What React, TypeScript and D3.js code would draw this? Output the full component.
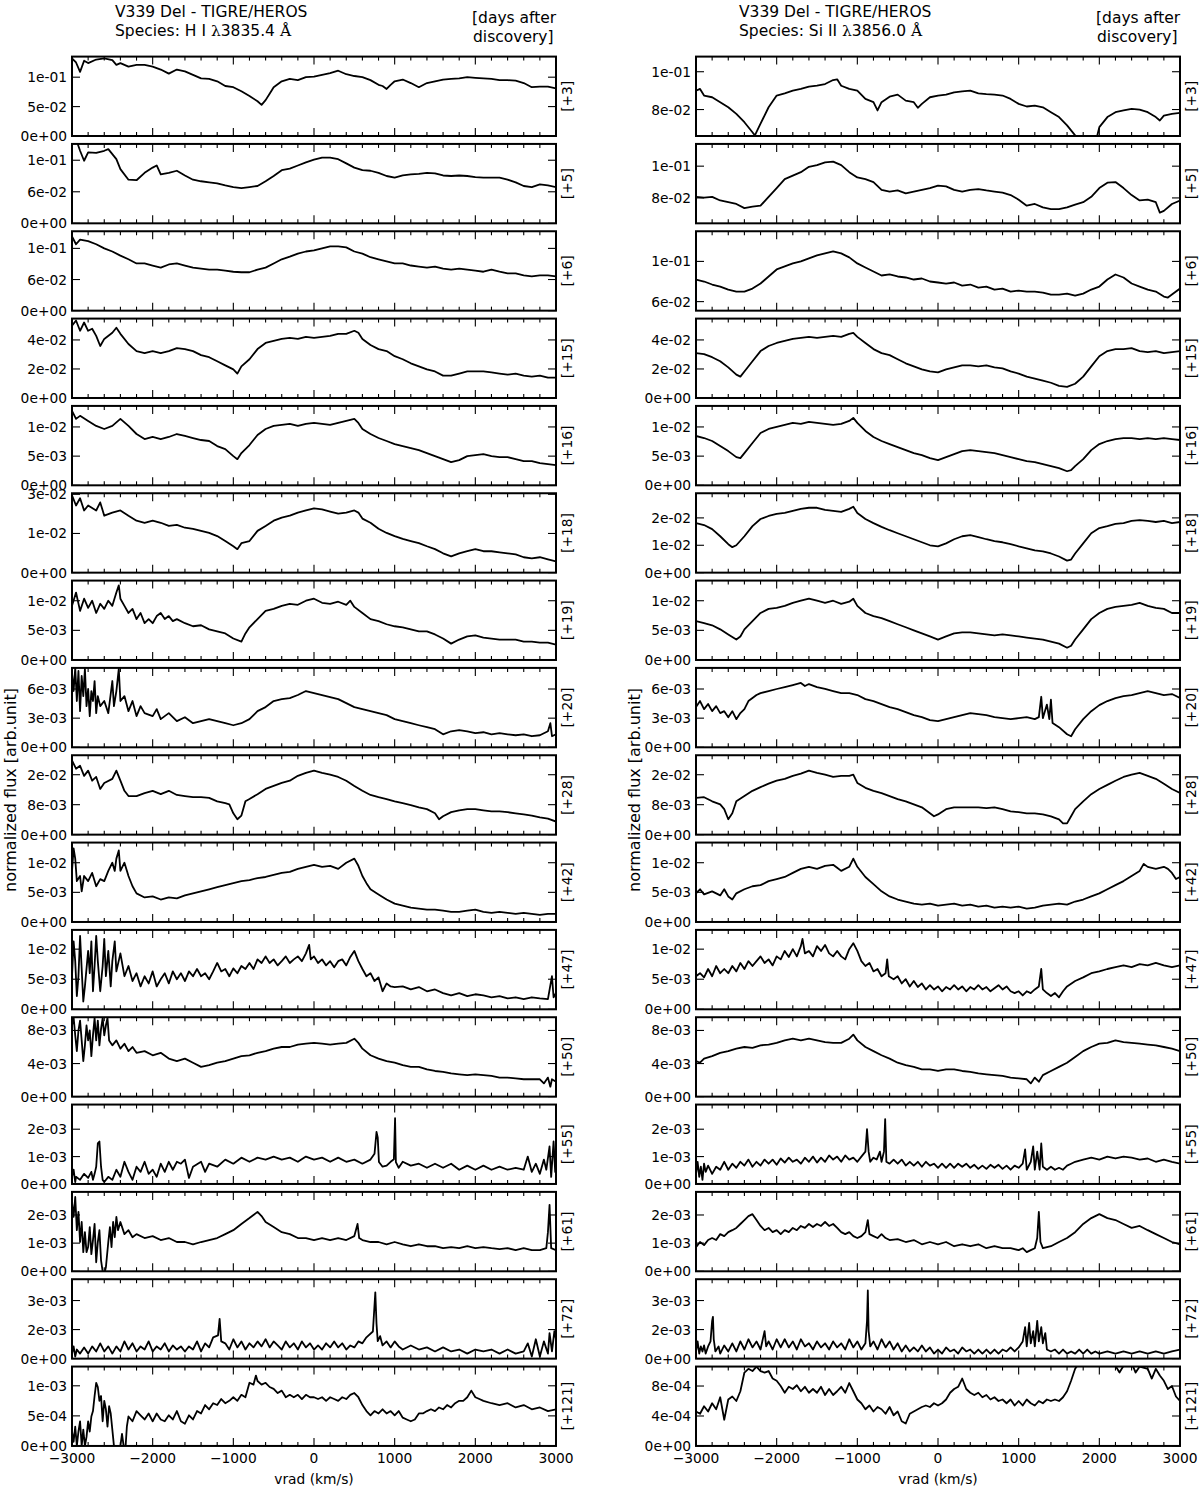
import React from "react";
import * as d3 from "d3";

type Pt = [number, number];

const vradTicks = [-3000, -2000, -1000, 0, 1000, 2000, 3000];
const daysAfter = ["+3", "+5", "+6", "+15", "+16", "+18", "+19", "+20", "+28", "+42", "+47", "+50", "+55", "+61", "+72", "+121"];

// ---------------- H I 3835.4 ----------------
const hi03: Pt[] = [[-3000,0.132],[-2950,0.125],[-2900,0.109],[-2850,0.128],[-2800,0.124],[-2700,0.13],[-2600,0.132],[-2500,0.129],[-2450,0.121],[-2400,0.124],[-2300,0.118],[-2200,0.121],[-2100,0.121],[-2000,0.118],[-1900,0.113],[-1800,0.106],[-1700,0.113],[-1600,0.11],[-1500,0.104],[-1400,0.098],[-1300,0.097],[-1200,0.093],[-1100,0.085],[-1000,0.083],[-900,0.076],[-800,0.068],[-700,0.059],[-650,0.053],[-600,0.061],[-550,0.072],[-500,0.083],[-400,0.093],[-300,0.097],[-200,0.095],[-100,0.1],[0,0.101],[100,0.104],[200,0.107],[300,0.111],[400,0.105],[500,0.102],[600,0.1],[700,0.095],[800,0.087],[850,0.085],[900,0.08],[950,0.087],[1000,0.093],[1100,0.096],[1200,0.09],[1300,0.083],[1400,0.09],[1500,0.093],[1600,0.096],[1700,0.097],[1800,0.098],[1900,0.1],[2000,0.099],[2100,0.098],[2200,0.097],[2300,0.095],[2400,0.095],[2500,0.094],[2600,0.09],[2700,0.083],[2800,0.084],[2900,0.084],[3000,0.081]];
const hi05: Pt[] = [[-2950,0.16],[-2900,0.138],[-2850,0.119],[-2800,0.135],[-2700,0.134],[-2600,0.138],[-2550,0.141],[-2450,0.122],[-2400,0.103],[-2300,0.083],[-2200,0.082],[-2100,0.096],[-2000,0.106],[-1950,0.11],[-1900,0.093],[-1800,0.096],[-1700,0.1],[-1600,0.091],[-1500,0.083],[-1400,0.08],[-1300,0.078],[-1200,0.076],[-1100,0.072],[-1000,0.069],[-900,0.067],[-800,0.069],[-700,0.071],[-600,0.08],[-500,0.09],[-400,0.101],[-300,0.104],[-200,0.11],[-100,0.116],[0,0.121],[100,0.125],[200,0.125],[300,0.122],[400,0.114],[500,0.106],[600,0.101],[700,0.1],[800,0.096],[900,0.09],[1000,0.087],[1100,0.091],[1200,0.093],[1300,0.094],[1400,0.096],[1500,0.095],[1600,0.091],[1700,0.09],[1800,0.091],[1900,0.09],[2000,0.088],[2100,0.087],[2200,0.087],[2300,0.087],[2400,0.083],[2500,0.078],[2600,0.071],[2700,0.069],[2800,0.074],[2900,0.072],[3000,0.069]];
const hi06: Pt[] = [[-3000,0.143],[-2950,0.128],[-2900,0.137],[-2800,0.134],[-2700,0.128],[-2600,0.12],[-2500,0.114],[-2400,0.106],[-2300,0.099],[-2200,0.091],[-2100,0.091],[-2000,0.087],[-1900,0.083],[-1800,0.089],[-1700,0.091],[-1600,0.087],[-1500,0.083],[-1400,0.081],[-1300,0.079],[-1200,0.079],[-1100,0.077],[-1000,0.075],[-900,0.074],[-800,0.074],[-700,0.079],[-600,0.083],[-500,0.091],[-400,0.099],[-300,0.104],[-200,0.11],[-100,0.114],[0,0.116],[100,0.12],[200,0.124],[300,0.124],[400,0.122],[500,0.114],[600,0.11],[700,0.103],[800,0.099],[900,0.095],[1000,0.091],[1100,0.091],[1200,0.087],[1300,0.085],[1400,0.083],[1500,0.085],[1600,0.081],[1700,0.079],[1800,0.081],[1900,0.079],[2000,0.077],[2100,0.075],[2200,0.079],[2300,0.075],[2400,0.072],[2500,0.072],[2600,0.068],[2700,0.066],[2800,0.068],[2900,0.068],[3000,0.066]];
const hi15: Pt[] = [[-3000,0.0498],[-2950,0.0534],[-2900,0.0463],[-2850,0.052],[-2800,0.0463],[-2750,0.0477],[-2700,0.0428],[-2650,0.0358],[-2600,0.0407],[-2500,0.0449],[-2450,0.0484],[-2400,0.0442],[-2300,0.0372],[-2200,0.0323],[-2100,0.0309],[-2000,0.0323],[-1900,0.0309],[-1800,0.0323],[-1700,0.0344],[-1600,0.0337],[-1500,0.0323],[-1400,0.0295],[-1300,0.0281],[-1200,0.0253],[-1100,0.0225],[-1000,0.0197],[-950,0.0168],[-900,0.0218],[-800,0.0267],[-700,0.0337],[-600,0.0379],[-500,0.0393],[-400,0.0407],[-300,0.0414],[-200,0.0407],[-100,0.0421],[0,0.0414],[100,0.0421],[200,0.0428],[300,0.0442],[400,0.0442],[500,0.0463],[550,0.0449],[600,0.0407],[700,0.0365],[800,0.0337],[900,0.0323],[1000,0.0288],[1100,0.0267],[1200,0.0239],[1300,0.0218],[1400,0.0197],[1500,0.0183],[1600,0.0154],[1700,0.0154],[1800,0.0168],[1900,0.0183],[2000,0.0183],[2100,0.0183],[2200,0.0176],[2300,0.0168],[2400,0.0161],[2500,0.0168],[2600,0.0154],[2700,0.0147],[2800,0.0154],[2900,0.014],[3000,0.014]];
const hi16: Pt[] = [[-3000,0.01276],[-2950,0.01138],[-2900,0.0119],[-2800,0.01103],[-2700,0.01017],[-2600,0.00965],[-2500,0.01017],[-2400,0.01138],[-2300,0.01017],[-2200,0.00879],[-2100,0.00793],[-2000,0.00828],[-1900,0.00793],[-1800,0.00828],[-1700,0.00879],[-1600,0.00845],[-1500,0.0081],[-1400,0.00776],[-1300,0.00759],[-1200,0.00672],[-1100,0.00621],[-1000,0.005],[-950,0.00448],[-900,0.00552],[-800,0.0069],[-700,0.00862],[-600,0.00965],[-500,0.01017],[-400,0.01034],[-300,0.01052],[-200,0.01017],[-100,0.01052],[0,0.01069],[100,0.01052],[200,0.01034],[300,0.01069],[400,0.01103],[500,0.01138],[550,0.01069],[600,0.00965],[700,0.00879],[800,0.0081],[900,0.00759],[1000,0.00707],[1100,0.00672],[1200,0.00638],[1300,0.00603],[1400,0.00552],[1500,0.005],[1600,0.00448],[1700,0.00397],[1800,0.00431],[1900,0.005],[2000,0.00517],[2100,0.00534],[2200,0.005],[2300,0.00483],[2400,0.00483],[2500,0.00448],[2600,0.00414],[2700,0.00414],[2800,0.00379],[2900,0.00362],[3000,0.00345]];
const hi18: Pt[] = [[-3000,0.0296],[-2950,0.0257],[-2900,0.0285],[-2850,0.0238],[-2800,0.0257],[-2700,0.0238],[-2650,0.0269],[-2600,0.0218],[-2500,0.023],[-2400,0.0238],[-2300,0.0218],[-2200,0.0199],[-2100,0.0191],[-2000,0.0199],[-1900,0.0191],[-1800,0.0179],[-1700,0.0183],[-1600,0.0172],[-1500,0.0168],[-1400,0.016],[-1300,0.0152],[-1200,0.014],[-1100,0.0121],[-1000,0.0101],[-950,0.009],[-900,0.0113],[-800,0.0121],[-700,0.016],[-600,0.0179],[-500,0.0199],[-400,0.0211],[-300,0.0218],[-200,0.023],[-100,0.0238],[0,0.0246],[100,0.0242],[200,0.0234],[300,0.0226],[400,0.023],[500,0.0238],[550,0.023],[600,0.0207],[700,0.0191],[800,0.0168],[900,0.0152],[1000,0.014],[1100,0.0129],[1200,0.0121],[1300,0.0113],[1400,0.0101],[1500,0.009],[1600,0.0074],[1700,0.0062],[1800,0.0074],[1900,0.0082],[2000,0.009],[2100,0.0082],[2200,0.0082],[2300,0.0078],[2400,0.0074],[2500,0.007],[2600,0.0059],[2700,0.0055],[2800,0.0059],[2900,0.0051],[3000,0.0043]];
const hi19: Pt[] = [[-3000,0.00914],[-2950,0.01138],[-2900,0.00828],[-2850,0.01034],[-2800,0.00879],[-2750,0.01],[-2700,0.00793],[-2650,0.00948],[-2600,0.00862],[-2550,0.01],[-2500,0.00914],[-2450,0.01138],[-2420,0.01259],[-2400,0.01034],[-2350,0.00914],[-2300,0.00793],[-2250,0.00862],[-2200,0.0069],[-2150,0.00793],[-2100,0.00621],[-2050,0.0069],[-2000,0.00621],[-1950,0.00741],[-1900,0.00793],[-1850,0.0069],[-1800,0.00741],[-1750,0.00655],[-1700,0.0069],[-1600,0.00621],[-1500,0.00569],[-1400,0.00586],[-1300,0.00517],[-1200,0.00483],[-1100,0.00448],[-1000,0.00362],[-900,0.0031],[-850,0.00448],[-800,0.00552],[-700,0.0069],[-600,0.00828],[-500,0.00862],[-400,0.00914],[-300,0.00948],[-200,0.00931],[-100,0.01],[0,0.01034],[100,0.00965],[200,0.00948],[300,0.00983],[400,0.00931],[450,0.01],[500,0.00896],[600,0.00793],[700,0.0069],[800,0.00655],[900,0.00603],[1000,0.00569],[1100,0.00552],[1200,0.00517],[1300,0.00483],[1400,0.00483],[1500,0.00431],[1600,0.00362],[1700,0.00276],[1800,0.00345],[1900,0.00397],[2000,0.00414],[2100,0.00379],[2200,0.00362],[2300,0.00345],[2400,0.00345],[2500,0.00345],[2600,0.0031],[2700,0.0031],[2800,0.00293],[2900,0.00293],[3000,0.00259]];
const hi20: Pt[] = [[-3000,0.00765],[-2980,0.00579],[-2960,0.00817],[-2940,0.00476],[-2920,0.00786],[-2900,0.00372],[-2880,0.00734],[-2860,0.00527],[-2840,0.00807],[-2820,0.00424],[-2800,0.006],[-2780,0.00321],[-2760,0.00579],[-2740,0.00476],[-2720,0.00682],[-2700,0.00352],[-2680,0.00527],[-2650,0.00424],[-2600,0.00476],[-2550,0.00352],[-2500,0.00682],[-2480,0.00424],[-2450,0.00579],[-2420,0.00807],[-2400,0.00476],[-2350,0.00527],[-2300,0.00372],[-2250,0.00476],[-2200,0.00321],[-2150,0.00424],[-2100,0.00352],[-2000,0.00321],[-1950,0.00393],[-1900,0.0029],[-1800,0.00352],[-1700,0.00269],[-1600,0.0031],[-1500,0.00248],[-1400,0.00269],[-1300,0.0029],[-1200,0.00269],[-1100,0.00248],[-1000,0.00227],[-900,0.00248],[-800,0.0029],[-700,0.00372],[-600,0.00414],[-500,0.00476],[-400,0.00496],[-300,0.00507],[-200,0.00538],[-100,0.00579],[0,0.00558],[100,0.00538],[200,0.00517],[300,0.00496],[400,0.00455],[500,0.00414],[600,0.00393],[700,0.00372],[800,0.00352],[900,0.00331],[1000,0.0029],[1100,0.00269],[1200,0.00248],[1300,0.00227],[1400,0.00207],[1500,0.00186],[1600,0.00134],[1700,0.00165],[1800,0.00176],[1900,0.00165],[2000,0.00145],[2100,0.00155],[2200,0.00134],[2300,0.00145],[2400,0.00134],[2500,0.00124],[2600,0.00134],[2700,0.00114],[2800,0.00124],[2900,0.00165],[2930,0.00248],[2950,0.00114],[3000,0.00134]];
const hi28: Pt[] = [[-3000,0.0198],[-2950,0.0176],[-2900,0.0184],[-2850,0.0157],[-2800,0.0171],[-2750,0.0144],[-2700,0.0154],[-2650,0.0122],[-2600,0.0138],[-2500,0.0149],[-2450,0.0171],[-2400,0.0144],[-2350,0.0117],[-2300,0.0103],[-2200,0.0103],[-2100,0.0111],[-2000,0.0117],[-1900,0.0108],[-1800,0.0117],[-1700,0.0106],[-1600,0.0103],[-1500,0.01],[-1400,0.01],[-1300,0.0098],[-1200,0.0089],[-1100,0.0084],[-1050,0.0081],[-1000,0.0057],[-950,0.0041],[-900,0.0051],[-850,0.0089],[-800,0.0095],[-700,0.0108],[-600,0.0122],[-500,0.013],[-400,0.0138],[-300,0.0144],[-200,0.0157],[-100,0.0165],[0,0.0171],[100,0.0165],[200,0.016],[300,0.0154],[400,0.0144],[500,0.013],[600,0.0117],[700,0.0106],[800,0.01],[900,0.0095],[1000,0.0089],[1100,0.0084],[1200,0.0079],[1300,0.0073],[1400,0.0068],[1500,0.0057],[1550,0.0041],[1600,0.0049],[1700,0.006],[1800,0.0065],[1900,0.0068],[2000,0.0068],[2100,0.0065],[2200,0.0062],[2300,0.0062],[2400,0.006],[2500,0.0057],[2600,0.0054],[2700,0.0051],[2800,0.0046],[2900,0.0043],[3000,0.0035]];
const hi42: Pt[] = [[-3000,0.00862],[-2980,0.01241],[-2960,0.01069],[-2940,0.0069],[-2900,0.00776],[-2880,0.00517],[-2850,0.00776],[-2800,0.0069],[-2750,0.00828],[-2700,0.00603],[-2650,0.00724],[-2600,0.0069],[-2550,0.00862],[-2500,0.01],[-2470,0.00862],[-2450,0.01069],[-2420,0.01207],[-2400,0.00862],[-2350,0.01],[-2300,0.00776],[-2250,0.00603],[-2200,0.00483],[-2100,0.00414],[-2000,0.00431],[-1900,0.00379],[-1800,0.00414],[-1700,0.00397],[-1600,0.00448],[-1500,0.00483],[-1400,0.00517],[-1300,0.00552],[-1200,0.00586],[-1100,0.00621],[-1000,0.00655],[-900,0.0069],[-800,0.00707],[-700,0.00741],[-600,0.00759],[-500,0.00793],[-400,0.00828],[-300,0.00845],[-200,0.00896],[-100,0.00931],[0,0.00965],[100,0.00931],[200,0.00948],[300,0.00896],[400,0.01],[500,0.01069],[550,0.00948],[600,0.00776],[650,0.00655],[700,0.00552],[800,0.00465],[900,0.00379],[1000,0.0031],[1100,0.00276],[1200,0.00241],[1300,0.00224],[1400,0.00207],[1500,0.00207],[1600,0.0019],[1700,0.00172],[1800,0.00172],[1900,0.0019],[2000,0.00207],[2100,0.00172],[2200,0.00155],[2300,0.00172],[2400,0.00155],[2500,0.00138],[2600,0.00155],[2700,0.00138],[2800,0.00121],[2900,0.00138],[3000,0.00138]];
const hi47: Pt[] = [[-3000,0.0055],[-2980,0.0113],[-2960,0.008],[-2940,0.0022],[-2920,0.0055],[-2900,0.0122],[-2880,0.0067],[-2860,0.0013],[-2840,0.0038],[-2800,0.0097],[-2780,0.006],[-2760,0.0113],[-2740,0.003],[-2720,0.0072],[-2700,0.0122],[-2680,0.008],[-2650,0.003],[-2620,0.0072],[-2600,0.0117],[-2580,0.0055],[-2550,0.0097],[-2520,0.0038],[-2500,0.008],[-2470,0.0113],[-2450,0.0063],[-2400,0.0093],[-2350,0.0055],[-2300,0.0072],[-2250,0.0047],[-2200,0.006],[-2150,0.0038],[-2100,0.0055],[-2050,0.0043],[-2000,0.0063],[-1950,0.0038],[-1900,0.005],[-1850,0.006],[-1800,0.0043],[-1750,0.0063],[-1700,0.005],[-1650,0.006],[-1600,0.0047],[-1550,0.0063],[-1500,0.0055],[-1450,0.0067],[-1400,0.0055],[-1350,0.006],[-1300,0.005],[-1250,0.0063],[-1200,0.0077],[-1150,0.0063],[-1100,0.0067],[-1050,0.0055],[-1000,0.0068],[-950,0.006],[-900,0.0072],[-850,0.0067],[-800,0.0077],[-750,0.0067],[-700,0.0083],[-650,0.0077],[-600,0.0088],[-550,0.0077],[-500,0.0083],[-450,0.0073],[-400,0.008],[-350,0.0088],[-300,0.0077],[-250,0.0083],[-200,0.0088],[-150,0.008],[-100,0.0093],[-60,0.0107],[-40,0.0083],[0,0.0088],[50,0.0077],[100,0.0083],[150,0.0073],[200,0.008],[250,0.007],[300,0.008],[350,0.0083],[400,0.0073],[450,0.0087],[500,0.0097],[550,0.008],[600,0.0067],[650,0.0055],[700,0.006],[750,0.0047],[800,0.0053],[850,0.003],[900,0.0043],[950,0.0038],[1000,0.0037],[1100,0.0038],[1200,0.0033],[1300,0.0037],[1400,0.003],[1500,0.0033],[1600,0.0027],[1700,0.0023],[1800,0.0027],[1900,0.0022],[2000,0.0025],[2100,0.0023],[2200,0.002],[2300,0.0022],[2400,0.0018],[2500,0.002],[2600,0.0017],[2700,0.002],[2800,0.0018],[2900,0.0017],[2950,0.0055],[2970,0.002],[3000,0.0027]];
const hi50: Pt[] = [[-3000,0.0086],[-2980,0.0096],[-2960,0.0074],[-2940,0.0055],[-2920,0.008],[-2900,0.0092],[-2880,0.0068],[-2860,0.0043],[-2840,0.0062],[-2820,0.0086],[-2800,0.0068],[-2780,0.008],[-2760,0.0049],[-2740,0.0074],[-2720,0.0095],[-2700,0.0068],[-2680,0.0092],[-2660,0.0062],[-2640,0.0082],[-2620,0.0095],[-2600,0.0074],[-2580,0.0086],[-2560,0.0095],[-2540,0.0068],[-2500,0.0062],[-2450,0.0068],[-2400,0.0058],[-2350,0.0064],[-2300,0.0055],[-2250,0.006],[-2200,0.0053],[-2100,0.0055],[-2000,0.005],[-1900,0.0053],[-1800,0.0046],[-1700,0.0043],[-1600,0.0046],[-1500,0.0041],[-1400,0.0036],[-1300,0.0038],[-1200,0.0041],[-1100,0.0043],[-1000,0.0046],[-900,0.0049],[-800,0.005],[-700,0.0053],[-600,0.0055],[-500,0.0058],[-400,0.006],[-300,0.006],[-200,0.0063],[-100,0.0064],[0,0.0065],[100,0.0064],[200,0.0063],[300,0.0064],[400,0.0065],[500,0.007],[550,0.0065],[600,0.0058],[700,0.005],[800,0.0046],[900,0.0043],[1000,0.0041],[1100,0.0038],[1200,0.0036],[1300,0.0036],[1400,0.0033],[1500,0.0031],[1600,0.003],[1700,0.0028],[1800,0.0027],[1900,0.0026],[2000,0.0027],[2100,0.0026],[2200,0.0025],[2300,0.0023],[2400,0.0023],[2500,0.0022],[2600,0.0021],[2700,0.0021],[2800,0.0021],[2850,0.0016],[2900,0.0023],[2930,0.0012],[2950,0.0021],[3000,0.0018]];
const hi55: Pt[] = [[-3000,0.00026],[-2980,0.00052],[-2960,0.00007],[-2950,0.00026],[-2900,0.00015],[-2850,0.00037],[-2800,0.00022],[-2760,0.00044],[-2740,0.00015],[-2720,0.00037],[-2700,0.00063],[-2680,0.00148],[-2660,0.00155],[-2640,0.00063],[-2620,0.00015],[-2600,0.00007],[-2550,0.00026],[-2500,0.00015],[-2450,0.00052],[-2400,0.00026],[-2350,0.00081],[-2300,0.00044],[-2250,0.00015],[-2200,0.00063],[-2150,0.00044],[-2100,0.00081],[-2050,0.00037],[-2000,0.00052],[-1950,0.00026],[-1900,0.00074],[-1850,0.00044],[-1800,0.00081],[-1750,0.00052],[-1700,0.00081],[-1650,0.00074],[-1600,0.00089],[-1550,0.00022],[-1500,0.00063],[-1400,0.00081],[-1350,0.00044],[-1300,0.00074],[-1200,0.00063],[-1100,0.00089],[-1000,0.00074],[-900,0.00096],[-800,0.00081],[-700,0.00096],[-600,0.00089],[-500,0.001],[-400,0.00089],[-300,0.00096],[-200,0.00081],[-100,0.001],[0,0.00089],[100,0.00096],[200,0.00081],[300,0.00096],[400,0.00081],[500,0.00089],[600,0.00074],[700,0.00089],[750,0.0011],[775,0.0019],[790,0.0017],[805,0.0008],[850,0.00063],[900,0.00067],[950,0.00081],[990,0.0009],[1005,0.0024],[1015,0.0008],[1050,0.00059],[1100,0.00081],[1200,0.00067],[1300,0.00074],[1400,0.00059],[1500,0.00074],[1600,0.00059],[1700,0.00074],[1800,0.00052],[1900,0.00067],[2000,0.00052],[2100,0.00067],[2200,0.00052],[2300,0.00063],[2400,0.00052],[2500,0.00059],[2600,0.00052],[2650,0.001],[2700,0.00044],[2750,0.00074],[2800,0.00037],[2850,0.00089],[2880,0.00052],[2920,0.00137],[2940,0.00026],[2970,0.00155],[2990,0.00044],[3000,0.00074]];
const hi61: Pt[] = [[-3000,0.00246],[-2980,0.00193],[-2960,0.00264],[-2940,0.00146],[-2920,0.00211],[-2900,0.00104],[-2880,0.00175],[-2860,0.00068],[-2840,0.00139],[-2820,0.00068],[-2800,0.00086],[-2780,0.00157],[-2760,0.00061],[-2740,0.00111],[-2720,0.00168],[-2700,0.00032],[-2680,0.00104],[-2660,0.00146],[-2640,0.00039],[-2620,0],[-2600,-0.0001],[-2580,0.00014],[-2550,0.00104],[-2530,0.00157],[-2510,0.00086],[-2490,0.00175],[-2470,0.00121],[-2450,0.00193],[-2430,0.00146],[-2400,0.00175],[-2350,0.00132],[-2300,0.00146],[-2250,0.00121],[-2200,0.00132],[-2100,0.00118],[-2000,0.00125],[-1900,0.00111],[-1800,0.00118],[-1700,0.00104],[-1600,0.00104],[-1500,0.00096],[-1400,0.00104],[-1300,0.00111],[-1200,0.00118],[-1100,0.00132],[-1000,0.00146],[-900,0.00168],[-800,0.00189],[-700,0.00211],[-650,0.00196],[-600,0.00175],[-500,0.00157],[-400,0.00139],[-300,0.00132],[-200,0.00118],[-100,0.00118],[0,0.00111],[100,0.00118],[200,0.00111],[300,0.00118],[400,0.00111],[500,0.00125],[540,0.00168],[560,0.00118],[600,0.00111],[700,0.00104],[800,0.00104],[900,0.00096],[1000,0.00104],[1100,0.00096],[1200,0.00089],[1300,0.00096],[1400,0.00089],[1500,0.00089],[1600,0.00082],[1700,0.00086],[1800,0.00082],[1900,0.00089],[2000,0.00082],[2100,0.00086],[2200,0.00082],[2300,0.00079],[2400,0.00082],[2500,0.00075],[2600,0.00082],[2700,0.00075],[2800,0.00075],[2880,0.00082],[2900,0.00139],[2920,0.00236],[2940,0.00082],[3000,0.00075]];
const hi72: Pt[] = [[-3000,0.00026],[-2980,0.00063],[-2960,0.00011],[-2940,0.00047],[-2900,0.00026],[-2850,0.00058],[-2800,0.00026],[-2750,0.00063],[-2700,0.00037],[-2650,0.00079],[-2600,0.00037],[-2550,0.00063],[-2500,0.00026],[-2450,0.00063],[-2400,0.00037],[-2350,0.00089],[-2300,0.00047],[-2250,0.00079],[-2200,0.00037],[-2150,0.00063],[-2100,0.00047],[-2050,0.00089],[-2000,0.00037],[-1950,0.00063],[-1900,0.00047],[-1850,0.00079],[-1800,0.00037],[-1750,0.00068],[-1700,0.00047],[-1650,0.00063],[-1600,0.00037],[-1550,0.00063],[-1500,0.00047],[-1450,0.00089],[-1400,0.00037],[-1350,0.00079],[-1300,0.00058],[-1250,0.0011],[-1190,0.0012],[-1170,0.00205],[-1150,0.00089],[-1100,0.00079],[-1050,0.00047],[-1000,0.001],[-950,0.00058],[-900,0.00089],[-850,0.00047],[-800,0.00079],[-750,0.00058],[-700,0.00089],[-650,0.00063],[-600,0.001],[-550,0.00058],[-500,0.00089],[-450,0.00068],[-400,0.00047],[-350,0.00089],[-300,0.00058],[-250,0.00079],[-200,0.00047],[-150,0.00089],[-100,0.00058],[-50,0.00079],[0,0.00047],[50,0.00068],[100,0.00047],[150,0.00079],[200,0.00058],[250,0.00089],[300,0.00058],[350,0.00079],[400,0.00047],[450,0.00068],[500,0.00058],[550,0.00089],[600,0.00079],[650,0.0011],[730,0.0014],[760,0.00342],[775,0.0018],[790,0.0009],[820,0.00116],[850,0.00068],[900,0.00089],[950,0.00058],[1000,0.00089],[1050,0.00063],[1100,0.00047],[1200,0.00068],[1300,0.00047],[1400,0.00058],[1500,0.00037],[1600,0.00058],[1700,0.00037],[1800,0.00047],[1900,0.00026],[2000,0.00047],[2100,0.00037],[2200,0.00047],[2300,0.00026],[2400,0.00047],[2500,0.00026],[2600,0.00037],[2650,0.00079],[2700,0.00011],[2750,0.001],[2800,0.00011],[2850,0.00089],[2900,0.00026],[2920,0.00132],[2950,0.00037],[2980,0.00142],[3000,0.001]];
const hi121: Pt[] = [[-3000,0.00024],[-2980,0.00007],[-2960,0.00032],[-2940,0],[-2920,0.00024],[-2900,0.00041],[-2880,0],[-2860,0.00027],[-2840,0],[-2820,0.00015],[-2800,0.00041],[-2780,0.00024],[-2760,0.00049],[-2740,0.00058],[-2720,0.00083],[-2700,0.00105],[-2680,0.00098],[-2660,0.00075],[-2640,0.00083],[-2620,0.00041],[-2600,0.00075],[-2580,0.00061],[-2560,0.00032],[-2540,0.00066],[-2520,0.00054],[-2500,0.00027],[-2480,0],[-2450,-0.0001],[-2400,0],[-2380,0.0002],[-2360,0],[-2340,-0.0001],[-2320,0.00032],[-2300,0.00049],[-2250,0.00041],[-2200,0.00058],[-2150,0.00051],[-2100,0.00044],[-2050,0.00054],[-2000,0.00041],[-1950,0.00054],[-1900,0.00044],[-1850,0.00041],[-1800,0.00051],[-1750,0.00044],[-1700,0.00058],[-1650,0.00041],[-1600,0.00037],[-1550,0.00051],[-1500,0.00044],[-1450,0.00058],[-1400,0.00054],[-1350,0.00068],[-1300,0.00061],[-1250,0.00071],[-1200,0.00068],[-1150,0.00078],[-1100,0.00071],[-1050,0.00075],[-1000,0.00081],[-950,0.00075],[-900,0.00085],[-850,0.00081],[-800,0.00105],[-750,0.00102],[-720,0.00117],[-700,0.00108],[-650,0.00102],[-600,0.00105],[-550,0.00098],[-500,0.00095],[-450,0.00088],[-400,0.00092],[-350,0.00081],[-300,0.00085],[-250,0.00081],[-200,0.00085],[-150,0.00078],[-100,0.00085],[-50,0.00081],[0,0.00081],[50,0.00078],[100,0.00081],[150,0.00075],[200,0.00081],[250,0.00078],[300,0.00075],[350,0.00081],[400,0.00078],[450,0.00085],[500,0.00088],[550,0.00081],[600,0.00068],[650,0.00058],[700,0.00051],[750,0.00058],[800,0.00054],[850,0.00061],[900,0.00054],[950,0.00058],[1000,0.00051],[1050,0.00058],[1100,0.00047],[1150,0.00044],[1200,0.00041],[1250,0.00044],[1300,0.00054],[1350,0.00054],[1400,0.00058],[1450,0.00061],[1500,0.00058],[1550,0.00064],[1600,0.00061],[1650,0.00068],[1700,0.00064],[1750,0.00071],[1800,0.00075],[1850,0.00075],[1900,0.00081],[1950,0.00092],[2000,0.00081],[2050,0.00078],[2100,0.00075],[2200,0.00071],[2300,0.00068],[2400,0.00071],[2500,0.00064],[2600,0.00068],[2700,0.00061],[2800,0.00064],[2900,0.00058],[3000,0.00061]];

const hiSeries = [hi03, hi05, hi06, hi15, hi16, hi18, hi19, hi20, hi28, hi42, hi47, hi50, hi55, hi61, hi72, hi121];
const hiDomains: [number, number][] = [[0,0.135],[0,0.151],[0,0.153],[0,0.0547],[0,0.0136],[0,0.0304],[0,0.0134],[0,0.00817],[0,0.0212],[0,0.0134],[0,0.0132],[0,0.0096],[0,0.0029],[0,0.00282],[0,0.0041],[0,0.00132]];
const hiTicks: number[][] = [[0,0.05,0.1],[0,0.06,0.12],[0,0.06,0.12],[0,0.02,0.04],[0,0.005,0.01],[0,0.015,0.03],[0,0.005,0.01],[0,0.003,0.006],[0,0.008,0.016],[0,0.005,0.01],[0,0.005,0.01],[0,0.004,0.008],[0,0.001,0.002],[0,0.001,0.002],[0,0.0015,0.003],[0,0.0005,0.001]];

// ---------------- Si II 3856.0 ----------------
const si03: Pt[] = [[-3000,0.09],[-2950,0.0909],[-2900,0.0874],[-2800,0.0865],[-2700,0.0839],[-2600,0.0812],[-2500,0.0777],[-2400,0.0733],[-2300,0.068],[-2270,0.0663],[-2200,0.0725],[-2100,0.0812],[-2000,0.0874],[-1900,0.0886],[-1800,0.09],[-1700,0.0909],[-1600,0.0921],[-1500,0.0926],[-1400,0.0935],[-1300,0.0956],[-1250,0.096],[-1200,0.0926],[-1100,0.0909],[-1000,0.09],[-900,0.0856],[-800,0.0839],[-750,0.0795],[-700,0.0839],[-600,0.0868],[-500,0.0879],[-400,0.0847],[-300,0.0839],[-250,0.0809],[-200,0.083],[-100,0.0865],[0,0.0874],[100,0.0879],[200,0.0891],[300,0.0896],[400,0.09],[500,0.0886],[600,0.0882],[700,0.0879],[800,0.0874],[900,0.0856],[1000,0.083],[1100,0.0816],[1200,0.0821],[1300,0.0812],[1400,0.0786],[1500,0.076],[1600,0.0716],[1700,0.0663],[1750,0.062],[1850,0.06],[1950,0.062],[1980,0.0672],[2000,0.0707],[2100,0.076],[2200,0.0786],[2300,0.0795],[2400,0.0804],[2500,0.08],[2600,0.0786],[2700,0.076],[2750,0.0742],[2800,0.0768],[2900,0.0777],[3000,0.0782]];
const si05: Pt[] = [[-3000,0.0807],[-2900,0.0802],[-2800,0.0807],[-2700,0.0784],[-2600,0.0773],[-2500,0.0762],[-2400,0.0736],[-2300,0.0745],[-2200,0.0751],[-2100,0.0807],[-2000,0.0862],[-1900,0.0918],[-1800,0.094],[-1700,0.0962],[-1600,0.0996],[-1500,0.1007],[-1400,0.1024],[-1300,0.1029],[-1200,0.1007],[-1100,0.0962],[-1000,0.0929],[-900,0.0918],[-800,0.09],[-700,0.0851],[-600,0.084],[-500,0.0847],[-400,0.0829],[-300,0.084],[-200,0.0851],[-100,0.0862],[0,0.0878],[100,0.0873],[200,0.0851],[300,0.084],[400,0.0851],[500,0.0856],[600,0.0847],[700,0.084],[800,0.0833],[900,0.0818],[1000,0.0789],[1100,0.0751],[1200,0.0762],[1300,0.074],[1400,0.0729],[1500,0.0729],[1600,0.074],[1700,0.0758],[1800,0.0773],[1900,0.0807],[2000,0.0862],[2100,0.0896],[2200,0.09],[2300,0.0862],[2400,0.0818],[2500,0.0784],[2600,0.0789],[2700,0.0773],[2750,0.0707],[2800,0.0718],[2900,0.0762],[3000,0.0784]];
const si06: Pt[] = [[-3000,0.082],[-2900,0.08],[-2800,0.077],[-2700,0.075],[-2600,0.072],[-2500,0.07],[-2400,0.07],[-2300,0.073],[-2200,0.078],[-2100,0.085],[-2000,0.092],[-1900,0.095],[-1800,0.098],[-1700,0.1],[-1600,0.103],[-1500,0.106],[-1400,0.108],[-1300,0.11],[-1200,0.108],[-1100,0.104],[-1000,0.098],[-900,0.094],[-800,0.09],[-700,0.086],[-600,0.087],[-500,0.085],[-400,0.084],[-300,0.082],[-200,0.083],[-100,0.08],[0,0.079],[100,0.078],[200,0.079],[300,0.076],[400,0.077],[500,0.074],[600,0.075],[700,0.072],[800,0.073],[900,0.07],[1000,0.071],[1100,0.07],[1200,0.07],[1300,0.069],[1400,0.067],[1500,0.067],[1600,0.068],[1700,0.066],[1800,0.068],[1900,0.072],[2000,0.075],[2100,0.082],[2200,0.087],[2300,0.084],[2400,0.078],[2500,0.075],[2600,0.072],[2700,0.07],[2800,0.065],[2850,0.064],[2900,0.067],[3000,0.073]];
const si15: Pt[] = [[-3000,0.0309],[-2900,0.0302],[-2800,0.0281],[-2700,0.0253],[-2600,0.0211],[-2500,0.0161],[-2450,0.0147],[-2400,0.0183],[-2300,0.0253],[-2200,0.0323],[-2100,0.0358],[-2000,0.0379],[-1900,0.0393],[-1800,0.0407],[-1700,0.0414],[-1600,0.0421],[-1500,0.0414],[-1400,0.0421],[-1300,0.0428],[-1200,0.0421],[-1100,0.0442],[-1050,0.0449],[-1000,0.0421],[-900,0.0379],[-800,0.0337],[-700,0.0309],[-600,0.0295],[-500,0.0267],[-400,0.0239],[-300,0.0218],[-200,0.0197],[-100,0.0183],[0,0.0176],[100,0.0197],[200,0.0211],[300,0.0225],[400,0.0225],[500,0.0218],[600,0.0225],[700,0.0211],[800,0.0204],[900,0.0183],[1000,0.0168],[1100,0.0147],[1200,0.0133],[1300,0.0119],[1400,0.0105],[1500,0.0084],[1600,0.0077],[1700,0.0098],[1800,0.0147],[1900,0.0218],[2000,0.0288],[2100,0.0323],[2200,0.0337],[2300,0.0337],[2400,0.0344],[2500,0.0323],[2600,0.0316],[2700,0.0323],[2800,0.0309],[2900,0.0316],[3000,0.0323]];
const si16: Pt[] = [[-3000,0.00845],[-2900,0.0081],[-2800,0.00759],[-2700,0.00672],[-2600,0.00586],[-2500,0.00483],[-2450,0.00465],[-2400,0.00552],[-2300,0.00724],[-2200,0.00896],[-2100,0.00965],[-2000,0.01],[-1900,0.01034],[-1800,0.01069],[-1700,0.01052],[-1600,0.01086],[-1500,0.01069],[-1400,0.01052],[-1300,0.01034],[-1200,0.01052],[-1100,0.01103],[-1050,0.01155],[-1000,0.01069],[-900,0.00931],[-800,0.00828],[-700,0.00759],[-600,0.00707],[-500,0.00655],[-400,0.00603],[-300,0.00552],[-200,0.00517],[-100,0.00465],[0,0.00431],[100,0.00483],[200,0.00534],[300,0.00586],[400,0.00603],[500,0.00586],[600,0.00569],[700,0.00552],[800,0.00517],[900,0.00483],[1000,0.00448],[1100,0.00414],[1200,0.00397],[1300,0.00362],[1400,0.00328],[1500,0.00293],[1600,0.00241],[1650,0.00259],[1700,0.00328],[1800,0.00448],[1900,0.00603],[2000,0.00707],[2100,0.00759],[2200,0.00793],[2300,0.0081],[2400,0.0081],[2500,0.00793],[2600,0.0081],[2700,0.00793],[2800,0.0081],[2900,0.00793],[3000,0.00776]];
const si18: Pt[] = [[-3000,0.0181],[-2900,0.0174],[-2800,0.0159],[-2700,0.0133],[-2600,0.0104],[-2550,0.0093],[-2500,0.01],[-2400,0.0133],[-2300,0.017],[-2200,0.0196],[-2100,0.0207],[-2000,0.0215],[-1900,0.0218],[-1800,0.0226],[-1700,0.0233],[-1600,0.0237],[-1500,0.0237],[-1400,0.0229],[-1300,0.0226],[-1200,0.0222],[-1100,0.0233],[-1050,0.0241],[-1000,0.0218],[-900,0.0196],[-800,0.0181],[-700,0.0167],[-600,0.0155],[-500,0.0144],[-400,0.0133],[-300,0.0122],[-200,0.0111],[-100,0.01],[0,0.0096],[100,0.0107],[200,0.0122],[300,0.0133],[400,0.0137],[500,0.013],[600,0.0122],[700,0.0115],[800,0.0111],[900,0.0104],[1000,0.0096],[1100,0.0089],[1200,0.0081],[1300,0.0078],[1400,0.007],[1500,0.0059],[1600,0.0044],[1650,0.0048],[1700,0.007],[1800,0.0107],[1900,0.0144],[2000,0.0163],[2100,0.017],[2200,0.0178],[2300,0.0181],[2400,0.0189],[2500,0.0192],[2600,0.0189],[2700,0.0185],[2800,0.0189],[2900,0.0181],[3000,0.0185]];
const si19: Pt[] = [[-3000,0.00655],[-2900,0.00621],[-2800,0.00586],[-2700,0.00517],[-2600,0.00431],[-2500,0.00345],[-2450,0.00397],[-2400,0.00517],[-2300,0.00655],[-2200,0.00793],[-2100,0.00862],[-2000,0.00879],[-1900,0.00914],[-1800,0.00965],[-1700,0.01],[-1600,0.01034],[-1500,0.01],[-1400,0.00965],[-1300,0.01],[-1200,0.00948],[-1100,0.00983],[-1050,0.01034],[-1000,0.00914],[-900,0.00793],[-800,0.00741],[-700,0.00707],[-600,0.00655],[-500,0.00603],[-400,0.00552],[-300,0.005],[-200,0.00448],[-100,0.00397],[0,0.00345],[100,0.00397],[200,0.00448],[300,0.00465],[400,0.00465],[500,0.00448],[600,0.00431],[700,0.00414],[800,0.00431],[900,0.00414],[1000,0.00397],[1100,0.00379],[1200,0.00362],[1300,0.00345],[1400,0.0031],[1500,0.00276],[1600,0.00207],[1650,0.00241],[1700,0.00345],[1800,0.00517],[1900,0.0069],[2000,0.00793],[2100,0.00862],[2200,0.00896],[2300,0.00914],[2400,0.00931],[2500,0.00965],[2600,0.00914],[2700,0.00879],[2800,0.00862],[2900,0.00793],[3000,0.00793]];
const si20: Pt[] = [[-3000,0.00414],[-2950,0.00476],[-2900,0.00393],[-2850,0.00445],[-2800,0.00372],[-2750,0.00424],[-2700,0.00352],[-2650,0.00372],[-2600,0.0031],[-2550,0.00372],[-2500,0.0029],[-2450,0.00352],[-2400,0.00393],[-2350,0.00476],[-2300,0.00507],[-2250,0.00538],[-2200,0.00558],[-2100,0.00579],[-2000,0.006],[-1900,0.0062],[-1800,0.00641],[-1700,0.00662],[-1650,0.00631],[-1600,0.00651],[-1500,0.0062],[-1400,0.006],[-1300,0.00579],[-1200,0.00558],[-1100,0.00558],[-1000,0.00538],[-900,0.00496],[-800,0.00476],[-700,0.00445],[-600,0.00414],[-500,0.00393],[-400,0.00362],[-300,0.00331],[-200,0.0031],[-100,0.00279],[0,0.00269],[100,0.0029],[200,0.0031],[300,0.00331],[400,0.00352],[500,0.00341],[600,0.00331],[700,0.0031],[800,0.003],[900,0.0029],[1000,0.003],[1100,0.0031],[1200,0.0029],[1250,0.0031],[1280,0.0052],[1300,0.003],[1350,0.0044],[1380,0.0029],[1400,0.0049],[1420,0.0025],[1500,0.00207],[1600,0.00134],[1650,0.00114],[1700,0.00186],[1800,0.0029],[1900,0.00372],[2000,0.00434],[2100,0.00476],[2200,0.00507],[2300,0.00527],[2400,0.00538],[2500,0.00558],[2600,0.00579],[2700,0.00558],[2800,0.00538],[2900,0.00548],[3000,0.00507]];
const si28: Pt[] = [[-3000,0.0098],[-2900,0.01],[-2800,0.0089],[-2700,0.0081],[-2650,0.0068],[-2600,0.0041],[-2550,0.0057],[-2500,0.0089],[-2400,0.0103],[-2300,0.0117],[-2200,0.0127],[-2100,0.0136],[-2000,0.0144],[-1900,0.0149],[-1800,0.0157],[-1700,0.0163],[-1600,0.0171],[-1500,0.0165],[-1400,0.016],[-1300,0.0154],[-1200,0.0157],[-1100,0.0157],[-1050,0.016],[-1000,0.0138],[-900,0.0125],[-800,0.0117],[-700,0.0111],[-600,0.0103],[-500,0.0095],[-400,0.0089],[-300,0.0081],[-200,0.0073],[-100,0.0057],[-50,0.0049],[0,0.0054],[100,0.0068],[200,0.0073],[300,0.0073],[400,0.0073],[500,0.0073],[600,0.0071],[700,0.0073],[800,0.0068],[900,0.0062],[1000,0.006],[1100,0.0057],[1200,0.0057],[1300,0.0054],[1400,0.0049],[1500,0.0041],[1550,0.003],[1600,0.003],[1650,0.0049],[1700,0.0068],[1800,0.0089],[1900,0.0108],[2000,0.0122],[2100,0.0133],[2200,0.0144],[2300,0.0154],[2400,0.016],[2500,0.0165],[2600,0.0157],[2700,0.0149],[2800,0.0136],[2900,0.0122],[3000,0.0111]];
const si42: Pt[] = [[-3000,0.00483],[-2950,0.00552],[-2900,0.00465],[-2800,0.00517],[-2700,0.00448],[-2650,0.00552],[-2600,0.00431],[-2550,0.00379],[-2500,0.00483],[-2400,0.00552],[-2300,0.00603],[-2200,0.00621],[-2100,0.0069],[-2000,0.00724],[-1900,0.00759],[-1800,0.00828],[-1700,0.00896],[-1600,0.00931],[-1500,0.00896],[-1400,0.00948],[-1300,0.00965],[-1250,0.00914],[-1200,0.00862],[-1100,0.00931],[-1050,0.01069],[-1000,0.00931],[-900,0.00759],[-800,0.00638],[-700,0.00517],[-600,0.00431],[-500,0.00379],[-400,0.00345],[-300,0.0031],[-200,0.00293],[-100,0.0031],[0,0.00276],[100,0.00293],[200,0.0031],[300,0.00276],[400,0.00293],[500,0.00259],[600,0.00276],[700,0.00241],[800,0.00259],[900,0.00241],[1000,0.00259],[1100,0.00224],[1200,0.00241],[1300,0.00276],[1400,0.00293],[1500,0.0031],[1600,0.00293],[1700,0.00345],[1800,0.00379],[1900,0.00431],[2000,0.00483],[2100,0.00552],[2200,0.00621],[2300,0.0069],[2400,0.00776],[2500,0.00862],[2550,0.0098],[2600,0.0093],[2700,0.00896],[2800,0.00931],[2850,0.00896],[2900,0.00828],[2950,0.00724],[3000,0.00759]];
const si47: Pt[] = [[-3000,0.0055],[-2950,0.006],[-2900,0.0053],[-2850,0.0067],[-2800,0.0055],[-2750,0.0072],[-2700,0.006],[-2650,0.0067],[-2600,0.006],[-2550,0.0072],[-2500,0.0063],[-2450,0.0077],[-2400,0.0067],[-2350,0.008],[-2300,0.0072],[-2250,0.008],[-2200,0.0088],[-2150,0.0077],[-2100,0.0083],[-2050,0.0073],[-2000,0.0088],[-1950,0.0083],[-1900,0.0097],[-1850,0.0087],[-1800,0.01],[-1750,0.0088],[-1700,0.0105],[-1680,0.0117],[-1650,0.0093],[-1600,0.0097],[-1550,0.0088],[-1500,0.0105],[-1450,0.0097],[-1400,0.0107],[-1350,0.0093],[-1300,0.0088],[-1250,0.0097],[-1200,0.0088],[-1150,0.0083],[-1100,0.01],[-1050,0.011],[-1000,0.0097],[-950,0.008],[-900,0.0072],[-850,0.0077],[-800,0.0063],[-750,0.0067],[-700,0.0055],[-650,0.006],[-630,0.0083],[-610,0.0055],[-550,0.005],[-500,0.0055],[-450,0.0043],[-400,0.005],[-350,0.0038],[-300,0.0047],[-250,0.0037],[-200,0.0043],[-150,0.0033],[-100,0.004],[-50,0.0033],[0,0.0038],[50,0.003],[100,0.0037],[150,0.0033],[200,0.004],[250,0.0033],[300,0.0038],[350,0.003],[400,0.0037],[450,0.0033],[500,0.004],[550,0.0033],[600,0.0037],[650,0.003],[700,0.0035],[750,0.004],[800,0.0033],[850,0.0038],[900,0.003],[950,0.0027],[1000,0.003],[1050,0.0023],[1100,0.003],[1150,0.0027],[1200,0.0033],[1250,0.0038],[1280,0.0067],[1300,0.0033],[1350,0.0027],[1400,0.0022],[1450,0.0027],[1500,0.002],[1550,0.003],[1600,0.0038],[1700,0.0047],[1800,0.0053],[1900,0.006],[2000,0.0063],[2100,0.0067],[2200,0.007],[2300,0.0073],[2400,0.007],[2500,0.0075],[2600,0.0073],[2700,0.0077],[2800,0.0073],[2900,0.007],[3000,0.0073]];
const si50: Pt[] = [[-3000,0.0043],[-2950,0.0041],[-2900,0.0046],[-2800,0.0049],[-2700,0.0053],[-2600,0.0055],[-2500,0.0058],[-2400,0.006],[-2300,0.0059],[-2200,0.0062],[-2100,0.0063],[-2000,0.0065],[-1900,0.0068],[-1800,0.007],[-1700,0.0068],[-1600,0.007],[-1500,0.0068],[-1400,0.0066],[-1300,0.0065],[-1200,0.0065],[-1100,0.007],[-1050,0.0075],[-1000,0.0068],[-900,0.006],[-800,0.0055],[-700,0.005],[-600,0.0046],[-500,0.0041],[-400,0.0038],[-300,0.0036],[-200,0.0033],[-100,0.0033],[0,0.0031],[100,0.0033],[200,0.0033],[300,0.0031],[400,0.003],[500,0.0028],[600,0.0027],[700,0.0026],[800,0.0025],[900,0.0023],[1000,0.0022],[1100,0.0021],[1150,0.0016],[1200,0.0023],[1250,0.0018],[1300,0.0026],[1400,0.0031],[1500,0.0036],[1600,0.0041],[1700,0.0048],[1800,0.0055],[1900,0.006],[2000,0.0064],[2100,0.0065],[2200,0.0068],[2300,0.0066],[2400,0.0065],[2500,0.0064],[2600,0.0063],[2700,0.0062],[2800,0.006],[2900,0.0058],[3000,0.0055]];
const si55: Pt[] = [[-3000,0.00037],[-2980,0.00081],[-2960,0.00026],[-2940,0.00063],[-2920,0.00015],[-2900,0.00074],[-2880,0.00044],[-2850,0.00067],[-2800,0.00037],[-2750,0.00063],[-2700,0.00052],[-2650,0.00081],[-2600,0.00052],[-2550,0.00074],[-2500,0.00059],[-2450,0.00081],[-2400,0.00067],[-2350,0.00089],[-2300,0.00063],[-2250,0.00081],[-2200,0.00067],[-2150,0.00089],[-2100,0.00074],[-2050,0.00089],[-2000,0.0007],[-1950,0.00093],[-1900,0.00078],[-1850,0.00096],[-1800,0.00081],[-1750,0.00089],[-1700,0.00074],[-1650,0.00096],[-1600,0.00081],[-1550,0.001],[-1500,0.00078],[-1450,0.00096],[-1400,0.00081],[-1350,0.00104],[-1300,0.00089],[-1250,0.001],[-1200,0.00081],[-1150,0.00104],[-1100,0.00089],[-1050,0.00096],[-1000,0.00081],[-950,0.001],[-900,0.00118],[-880,0.002],[-860,0.00118],[-840,0.00081],[-800,0.00096],[-760,0.00089],[-720,0.00118],[-700,0.00081],[-670,0.00118],[-655,0.00237],[-640,0.00081],[-600,0.00074],[-550,0.00089],[-500,0.00074],[-450,0.00089],[-400,0.00067],[-350,0.00081],[-300,0.00067],[-250,0.00081],[-200,0.00063],[-150,0.00081],[-100,0.00067],[-50,0.00074],[0,0.00059],[50,0.00074],[100,0.00059],[150,0.00074],[200,0.00059],[250,0.00074],[300,0.00063],[350,0.00074],[400,0.00059],[450,0.0007],[500,0.00055],[550,0.00067],[600,0.00055],[650,0.0007],[700,0.00059],[750,0.0007],[800,0.00055],[850,0.00067],[900,0.00052],[950,0.00067],[1000,0.00059],[1050,0.00074],[1080,0.00126],[1100,0.00052],[1150,0.00081],[1180,0.00137],[1200,0.00052],[1230,0.00118],[1260,0.00052],[1280,0.00148],[1300,0.00063],[1350,0.00052],[1400,0.00063],[1450,0.00052],[1500,0.00059],[1550,0.00052],[1600,0.00067],[1650,0.00074],[1700,0.00081],[1800,0.00089],[1900,0.00096],[2000,0.00089],[2100,0.001],[2200,0.00093],[2300,0.001],[2400,0.00096],[2500,0.00089],[2600,0.00093],[2700,0.00081],[2800,0.00089],[2900,0.00081],[3000,0.00074]];
const si61: Pt[] = [[-3000,0.00086],[-2950,0.00104],[-2900,0.00093],[-2850,0.00111],[-2800,0.00118],[-2750,0.00111],[-2700,0.00132],[-2650,0.00125],[-2600,0.00139],[-2550,0.00146],[-2500,0.00154],[-2450,0.00168],[-2400,0.00182],[-2350,0.00196],[-2300,0.00203],[-2250,0.00182],[-2200,0.00161],[-2150,0.00146],[-2100,0.00154],[-2050,0.00139],[-2000,0.00146],[-1950,0.00132],[-1900,0.00146],[-1850,0.00139],[-1800,0.00154],[-1750,0.00146],[-1700,0.00161],[-1650,0.00154],[-1600,0.00168],[-1550,0.00157],[-1500,0.00168],[-1450,0.00161],[-1400,0.00175],[-1350,0.00161],[-1300,0.00168],[-1250,0.00154],[-1200,0.00139],[-1150,0.00132],[-1100,0.00139],[-1050,0.00125],[-1000,0.00118],[-950,0.00125],[-900,0.00139],[-870,0.00182],[-850,0.00132],[-800,0.00125],[-750,0.00118],[-700,0.00132],[-650,0.00118],[-600,0.00111],[-500,0.00114],[-400,0.00104],[-300,0.00111],[-200,0.00096],[-100,0.00104],[0,0.00096],[100,0.00104],[200,0.00089],[300,0.00096],[400,0.00089],[500,0.00096],[600,0.00082],[700,0.00089],[800,0.00082],[900,0.00082],[1000,0.00075],[1050,0.00082],[1100,0.00068],[1150,0.00075],[1200,0.00082],[1230,0.00118],[1250,0.00211],[1270,0.00104],[1300,0.00082],[1400,0.00089],[1500,0.00104],[1600,0.00118],[1700,0.00139],[1800,0.00168],[1900,0.00189],[2000,0.00203],[2100,0.00189],[2200,0.00182],[2300,0.00168],[2400,0.00154],[2500,0.00161],[2600,0.00146],[2700,0.00132],[2800,0.00118],[2900,0.00104],[3000,0.00096]];
const si72: Pt[] = [[-3000,0.00037],[-2980,0.00089],[-2960,0.00026],[-2940,0.00063],[-2920,0.00037],[-2900,0.00068],[-2880,0.00026],[-2850,0.00063],[-2820,0.00089],[-2800,0.00195],[-2790,0.00216],[-2780,0.001],[-2760,0.00037],[-2720,0.00063],[-2700,0.00026],[-2650,0.00068],[-2600,0.00037],[-2550,0.00079],[-2500,0.00037],[-2450,0.00089],[-2400,0.00047],[-2350,0.001],[-2300,0.00058],[-2250,0.00089],[-2200,0.00047],[-2150,0.00142],[-2130,0.00063],[-2100,0.00089],[-2050,0.00047],[-2000,0.001],[-1950,0.00058],[-1900,0.001],[-1850,0.00058],[-1800,0.00089],[-1750,0.00047],[-1700,0.001],[-1650,0.00063],[-1600,0.00079],[-1550,0.00047],[-1500,0.00089],[-1450,0.00058],[-1400,0.00079],[-1350,0.00047],[-1300,0.00089],[-1250,0.00058],[-1200,0.00079],[-1150,0.00047],[-1100,0.001],[-1050,0.00058],[-1000,0.00089],[-950,0.00047],[-900,0.00079],[-880,0.00195],[-870,0.00352],[-860,0.00142],[-840,0.00063],[-800,0.00089],[-750,0.00047],[-700,0.001],[-650,0.00058],[-600,0.00089],[-550,0.00047],[-500,0.00079],[-450,0.00037],[-400,0.00068],[-350,0.00037],[-300,0.00058],[-250,0.00037],[-200,0.00068],[-150,0.00037],[-100,0.00058],[-50,0.00026],[0,0.00047],[50,0.00026],[100,0.00058],[150,0.00037],[200,0.00047],[250,0.00026],[300,0.00058],[350,0.00037],[400,0.00047],[450,0.00026],[500,0.00047],[550,0.00026],[600,0.00047],[650,0.00026],[700,0.00047],[750,0.00026],[800,0.00047],[850,0.00037],[900,0.00058],[950,0.00037],[1000,0.00058],[1050,0.00089],[1080,0.00163],[1100,0.00063],[1130,0.00184],[1150,0.00079],[1180,0.00142],[1200,0.00063],[1230,0.00195],[1250,0.00089],[1280,0.00163],[1300,0.00079],[1330,0.00132],[1350,0.00047],[1400,0.00037],[1450,0.00047],[1500,0.00026],[1550,0.00047],[1600,0.00026],[1650,0.00037],[1700,0.00026],[1750,0.00047],[1800,0.00026],[1850,0.00047],[1900,0.00026],[1950,0.00037],[2000,0.00026],[2100,0.00037],[2200,0.00026],[2300,0.00037],[2400,0.00026],[2500,0.00037],[2600,0.00026],[2700,0.00037],[2800,0.00026],[2900,0.00037],[3000,0.00047]];
const si121: Pt[] = [[-3000,0.00046],[-2950,0.00043],[-2900,0.00053],[-2850,0.00046],[-2800,0.00057],[-2750,0.00049],[-2700,0.00065],[-2650,0.00035],[-2600,0.00062],[-2550,0.00066],[-2500,0.0006],[-2450,0.00073],[-2400,0.00098],[-2350,0.00103],[-2300,0.001],[-2250,0.00106],[-2200,0.001],[-2150,0.00098],[-2100,0.001],[-2050,0.0009],[-2000,0.00087],[-1950,0.0008],[-1900,0.00071],[-1850,0.00079],[-1800,0.00076],[-1750,0.00081],[-1700,0.00073],[-1650,0.00079],[-1600,0.00071],[-1550,0.00076],[-1500,0.00071],[-1450,0.00079],[-1400,0.00068],[-1350,0.00076],[-1300,0.00068],[-1250,0.00073],[-1200,0.00079],[-1150,0.00071],[-1100,0.00084],[-1050,0.00073],[-1000,0.00062],[-950,0.00057],[-900,0.00049],[-850,0.00054],[-800,0.00046],[-750,0.00052],[-700,0.00049],[-650,0.00043],[-600,0.00052],[-550,0.00041],[-500,0.00046],[-450,0.00033],[-400,0.0003],[-350,0.00043],[-300,0.00046],[-250,0.00049],[-200,0.00052],[-150,0.00054],[-100,0.00052],[-50,0.00057],[0,0.00054],[50,0.00057],[100,0.00062],[150,0.00071],[200,0.00076],[250,0.00079],[300,0.0009],[350,0.00076],[400,0.00071],[450,0.00068],[500,0.00071],[550,0.00065],[600,0.00068],[650,0.00062],[700,0.00065],[750,0.0006],[800,0.00062],[850,0.00057],[900,0.00062],[950,0.00054],[1000,0.0006],[1050,0.00054],[1100,0.00062],[1150,0.00057],[1200,0.00054],[1250,0.0006],[1300,0.00057],[1350,0.00062],[1400,0.0006],[1450,0.00062],[1500,0.0006],[1550,0.00065],[1600,0.00073],[1650,0.00087],[1700,0.00103],[1750,0.00111],[1800,0.00114],[1900,0.00114],[2000,0.00114],[2100,0.00111],[2200,0.00107],[2250,0.00098],[2300,0.00107],[2400,0.00111],[2450,0.00098],[2500,0.00106],[2600,0.00103],[2650,0.0009],[2700,0.00103],[2750,0.00094],[2800,0.00087],[2850,0.00076],[2900,0.0008],[2950,0.00066],[3000,0.0006]];

const siSeries = [si03, si05, si06, si15, si16, si18, si19, si20, si28, si42, si47, si50, si55, si61, si72, si121];
const siDomains: [number, number][] = [[0.066,0.108],[0.064,0.114],[0.051,0.13],[0,0.0547],[0,0.0136],[0,0.029],[0,0.0134],[0,0.00817],[0,0.0212],[0,0.0134],[0,0.0132],[0,0.0096],[0,0.0029],[0,0.00282],[0,0.0041],[0,0.00106]];
const siTicks: number[][] = [[0.08,0.1],[0.08,0.1],[0.06,0.1],[0,0.02,0.04],[0,0.005,0.01],[0,0.01,0.02],[0,0.005,0.01],[0,0.003,0.006],[0,0.008,0.016],[0,0.005,0.01],[0,0.005,0.01],[0,0.004,0.008],[0,0.001,0.002],[0,0.001,0.002],[0,0.0015,0.003],[0,0.0004,0.0008]];

const columns = [
  { key: "hi", x0: 72, w: 484, series: hiSeries, domains: hiDomains, ticks: hiTicks, title1: "V339 Del - TIGRE/HEROS", species: "Species: H I ", line: "3835.4", ylabX: 10 },
  { key: "si", x0: 696, w: 484, series: siSeries, domains: siDomains, ticks: siTicks, title1: "V339 Del - TIGRE/HEROS", species: "Species: Si II ", line: "3856.0", ylabX: 634 },
];

const PANEL_TOP = 56.6;
const PANEL_STEP = 87.33;
const PANEL_H = 79.4;
const FONT = "DejaVu Sans, Verdana, sans-serif";
const TICK_FS = 13.8;
const HEAD_FS = 15.5;

function sci(v: number): string {
  if (v === 0) return "0e+00";
  const s = v.toExponential(0);
  const [m, e] = s.split("e");
  const sign = e[0] === "-" ? "-" : "+";
  const d = e.replace(/[+-]/, "");
  return `${m}e${sign}${d.padStart(2, "0")}`;
}

function Panel(props: { id: string; x0: number; y0: number; w: number; h: number; data: Pt[]; domain: [number, number]; ticks: number[]; day: string; last: boolean }) {
  const { id, x0, y0, w, h, data, domain, ticks, day, last } = props;
  const x = d3.scaleLinear().domain([-3000, 3000]).range([x0, x0 + w]);
  const y = d3.scaleLinear().domain(domain).range([y0 + h, y0]);
  const line = d3.line<Pt>().x((d) => x(d[0])).y((d) => y(d[1]));
  const minor = d3.range(-3000, 3001, 200);
  const yb = y0 + h;
  return (
    <g>
      <defs>
        <clipPath id={id}>
          <rect x={x0} y={y0} width={w} height={h} />
        </clipPath>
      </defs>
      <path d={line(data) || ""} fill="none" stroke="#000" strokeWidth={1.8} strokeLinejoin="round" clipPath={`url(#${id})`} />
      {minor.map((v) => {
        const major = v % 1000 === 0;
        const len = major ? 8 : 4;
        const xx = x(v);
        return (
          <g key={v}>
            <line x1={xx} x2={xx} y1={yb} y2={yb - len} stroke="#000" strokeWidth={1.1} />
            <line x1={xx} x2={xx} y1={y0} y2={y0 + len} stroke="#000" strokeWidth={1.1} />
          </g>
        );
      })}
      {ticks.map((t) => {
        const yy = y(t);
        return (
          <g key={t}>
            <line x1={x0} x2={x0 + 8} y1={yy} y2={yy} stroke="#000" strokeWidth={1.1} />
            <line x1={x0 + w} x2={x0 + w - 8} y1={yy} y2={yy} stroke="#000" strokeWidth={1.1} />
            <text x={x0 - 5} y={yy} textAnchor="end" dominantBaseline="central" fontSize={TICK_FS} fontFamily={FONT}>
              {sci(t)}
            </text>
          </g>
        );
      })}
      <rect x={x0} y={y0} width={w} height={h} fill="none" stroke="#000" strokeWidth={2} />
      <text
        transform={`translate(${x0 + w + 11},${y0 + h / 2}) rotate(-90)`}
        textAnchor="middle"
        dominantBaseline="central"
        fontSize={TICK_FS}
        fontFamily={FONT}
      >
        {`[${day}]`}
      </text>
      {last &&
        vradTicks.map((v) => (
          <text key={v} x={x(v)} y={yb + 17} textAnchor="middle" fontSize={TICK_FS} fontFamily={FONT}>
            {v < 0 ? `\u2212${Math.abs(v)}` : `${v}`}
          </text>
        ))}
      {last && (
        <text x={x0 + w / 2} y={yb + 38} textAnchor="middle" fontSize={TICK_FS} fontFamily={FONT}>
          vrad (km/s)
        </text>
      )}
    </g>
  );
}

export default function App() {
  return (
    <svg width={1200} height={1490} style={{ position: "absolute", left: 0, top: 0, background: "#fff" }}>
      <rect x={0} y={0} width={1200} height={1490} fill="#fff" />
      {columns.map((c) => (
        <g key={c.key}>
          <text x={c.x0 + 43} y={17} fontSize={HEAD_FS} fontFamily={FONT}>
            {c.title1}
          </text>
          <text x={c.x0 + 43} y={36} fontSize={HEAD_FS} fontFamily={FONT}>
            {c.species}
            <tspan fontFamily="DejaVu Serif, serif">λ</tspan>
            {c.line + " "}
            <tspan fontFamily="DejaVu Serif, serif">Å</tspan>
          </text>
          <text x={c.x0 + c.w - 84} y={23} fontSize={HEAD_FS} fontFamily={FONT}>
            [days after
          </text>
          <text x={c.x0 + c.w - 83} y={42} fontSize={HEAD_FS} fontFamily={FONT}>
            discovery]
          </text>
          <text
            transform={`translate(${c.ylabX},${790}) rotate(-90)`}
            textAnchor="middle"
            dominantBaseline="central"
            fontSize={16}
            fontFamily={FONT}
          >
            normalized flux [arb.unit]
          </text>
          {c.series.map((s, i) => (
            <Panel
              key={i}
              id={`clip-${c.key}-${i}`}
              x0={c.x0}
              y0={PANEL_TOP + i * PANEL_STEP}
              w={c.w}
              h={PANEL_H}
              data={s}
              domain={c.domains[i]}
              ticks={c.ticks[i]}
              day={daysAfter[i]}
              last={i === c.series.length - 1}
            />
          ))}
        </g>
      ))}
    </svg>
  );
}
